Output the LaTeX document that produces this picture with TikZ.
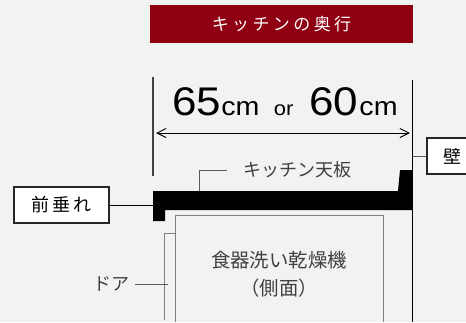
\documentclass[tikz,border=0pt]{standalone}
\usepackage{fontspec}
\usepackage{xcolor}
\setmainfont{Liberation Sans}
\newfontfamily\jpfont{Noto Sans CJK JP}
\newfontfamily\jpwide[LetterSpace=20]{Noto Sans CJK JP}
\newfontfamily\digitfont[FakeStretch=1.1]{Liberation Sans}
\definecolor{banner}{HTML}{8E0012}
\definecolor{paper}{HTML}{F1F3F2}
\usetikzlibrary{positioning, arrows.meta}
\tikzset{
	labelbox/.style={draw=black!85, fill=white, line width=1.2pt, minimum height=36pt, inner sep=0pt, text=black, font=\jpfont\fontsize{18}{18}\selectfont},
	jptext/.style={text=black!75, inner sep=0pt, font=\jpfont\fontsize{18}{18}\selectfont},
	leader/.style={draw=black!65, line width=1pt},
	appliance/.style={draw=black!50, line width=1pt},
}
\begin{document}
\begin{tikzpicture}[x=1pt, y=-1pt]
	\fill [paper] (0,0) rectangle (466,322);
	\useasboundingbox (0,0) rectangle (466,322);
	
	\node [fill=banner, text=white, minimum width=263pt, minimum height=38pt, inner sep=0pt, font=\jpwide\fontsize{17}{17}\selectfont] (title) at (281.5,24) {キッチンの奥行};
	
	\coordinate (leftTop) at (153,77);
	\coordinate (leftEnd) at (153,176);
	\coordinate (wallTop) at (412.5,80);
	\coordinate (wallEnd) at (412.5,322);
	\draw [black!75, line width=1.2pt] (leftTop)--(leftEnd);
	\draw [black, line width=1.2pt] (wallTop)--(wallEnd);
	
	\node [inner sep=0pt, anchor=base, font=\digitfont\fontsize{40}{40}\selectfont] (depth) at (285,115)
	{65{\fontsize{26}{26}\selectfont cm}\hspace{14.5pt}{\fontsize{20}{20}\selectfont or}\hspace{16pt}60\hspace{1pt}{\fontsize{26}{26}\selectfont cm}};
	
	\coordinate (dimLeft) at (156,133);
	\coordinate (dimRight) at (410,133);
	\draw [{Straight Barb[length=9pt,width=9pt]}-{Straight Barb[length=9pt,width=9pt]}, line width=1pt] (dimLeft)--(dimRight);
	
	% counter top
	\fill [black] (153,191)--(398,191)--(400,170)--(412,170)--(412,210)--(165,210)--(165,221)--(153,221)--cycle;
	
	\node [jptext] (topLabel) at (297,170) {キッチン天板};
	\coordinate (topFoot) at (199,191);
	\coordinate (topBend) at (199,170);
	\coordinate (topStart) at (227,170);
	\draw [leader] (topFoot)--(topBend)--(topStart);
	
	\node [labelbox, minimum width=95pt] (front) at (61.5,205) {前\hspace{3pt}垂\hspace{3pt}れ};
	\coordinate (frontEnd) at (153,205);
	\draw [black, line width=1pt] (front)--(frontEnd);
	
	\node [labelbox, minimum width=50pt] (wall) at (452,156) {壁};
	\coordinate (wallFoot) at (412.5,156);
	\draw [leader] (wall)--(wallFoot);
	
	\draw [appliance] (175,322)--(175,215)--(383,215)--(383,322);
	\draw [appliance] (164,320)--(164,233)--(175,233);
	\node [jptext, font=\jpfont\fontsize{19.4}{19.4}\selectfont] (washer) at (279,260) {食器洗い乾燥機};
	\node [jptext, font=\jpfont\fontsize{19.4}{19.4}\selectfont] (side) at (279,288) {（側面）};
	
	\node [jptext] (door) at (111,284) {ドア};
	\coordinate (doorLeft) at (135,284);
	\coordinate (doorRight) at (168,284);
	\draw [leader] (doorLeft)--(doorRight);
\end{tikzpicture}
\end{document}
